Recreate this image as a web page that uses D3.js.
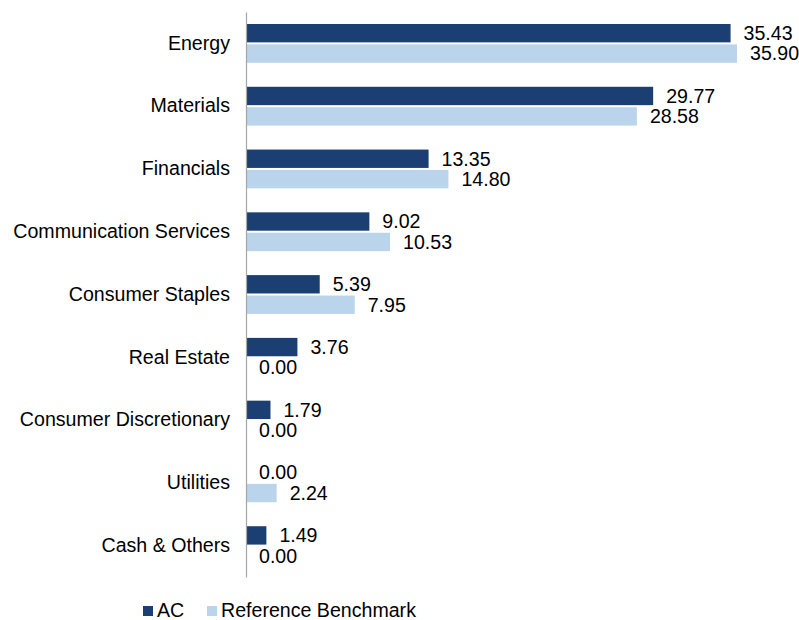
<!DOCTYPE html>
<html>
<head>
<meta charset="utf-8">
<script src="https://cdn.jsdelivr.net/npm/d3@7"></script>
<style>
  body { margin: 0; background: #fff; }
  text { font-family: "Liberation Sans", Arial, sans-serif; fill: #000; }
</style>
</head>
<body>
<script>
const w = 799;
const h = 620;

// * DATA
const categories = [
	"Energy",
	"Materials",
	"Financials",
	"Communication Services",
	"Consumer Staples",
	"Real Estate",
	"Consumer Discretionary",
	"Utilities",
	"Cash & Others",
];
const acValues = [35.43, 29.77, 13.35, 9.02, 5.39, 3.76, 1.79, 0.0, 1.49];
const benchValues = [35.9, 28.58, 14.8, 10.53, 7.95, 0.0, 0.0, 2.24, 0.0];
const seriesNames = ["AC", "Reference Benchmark"];
const colors = ["#1b3f72", "#bad4ec"];
const fs = "19.6px";

const svg = d3.select("body").append("svg").attr("width", w).attr("height", h);

// * SCALES
const x0 = 246;
const xScale = d3.scaleLinear().domain([0, 35.9]).range([x0, x0 + 491]);
const yScale = d3
	.scaleBand()
	.domain(categories)
	.range([12, 577])
	.paddingInner(0)
	.paddingOuter(0);
const inner = d3
	.scaleBand()
	.domain([0, 1])
	.range([12, yScale.bandwidth() - 12])
	.paddingInner(0.1);

// * BARS
const rows = categories.map((c, i) => ({ cat: c, vals: [acValues[i], benchValues[i]] }));
const groups = svg
	.selectAll("g.row")
	.data(rows)
	.enter()
	.append("g")
	.attr("class", "row")
	.attr("transform", (d) => "translate(0," + yScale(d.cat) + ")");

groups
	.selectAll("rect")
	.data((d) => d.vals)
	.enter()
	.append("rect")
	.attr("x", x0 + 1)
	.attr("y", (d, i) => inner(i))
	.attr("width", (d) => Math.max(0, xScale(d) - x0 - 1))
	.attr("height", inner.bandwidth())
	.attr("fill", (d, i) => colors[i]);

groups
	.selectAll("text.val")
	.data((d) => d.vals)
	.enter()
	.append("text")
	.attr("class", "val")
	.attr("x", (d) => xScale(d) + 13)
	.attr("y", (d, i) => inner(i) + inner.bandwidth() / 2)
	.attr("dy", "0.35em")
	.style("font-size", fs)
	.text((d) => d.toFixed(2));

// * AXIS
const yAxis = d3.axisLeft(yScale).tickSize(0).tickPadding(16);
const ax = svg.append("g").attr("transform", "translate(" + x0 + ",0)").call(yAxis);
ax.select(".domain").attr("stroke", "#a6a6a6").attr("stroke-width", 1.2);
ax.selectAll("text")
	.style("font-size", fs)
	.style("font-family", '"Liberation Sans", Arial, sans-serif')
	.attr("fill", "#000");

// * LEGEND
const legendX = [143, 207];
const legend = svg
	.selectAll("g.legend")
	.data(seriesNames)
	.enter()
	.append("g")
	.attr("class", "legend")
	.attr("transform", (d, i) => "translate(" + legendX[i] + ",606)");
legend
	.append("rect")
	.attr("width", 10)
	.attr("height", 10)
	.attr("fill", (d, i) => colors[i]);
legend
	.append("text")
	.attr("x", 14)
	.attr("y", 5)
	.attr("dy", "0.33em")
	.style("font-size", fs)
	.text((d) => d);
</script>
</body>
</html>
